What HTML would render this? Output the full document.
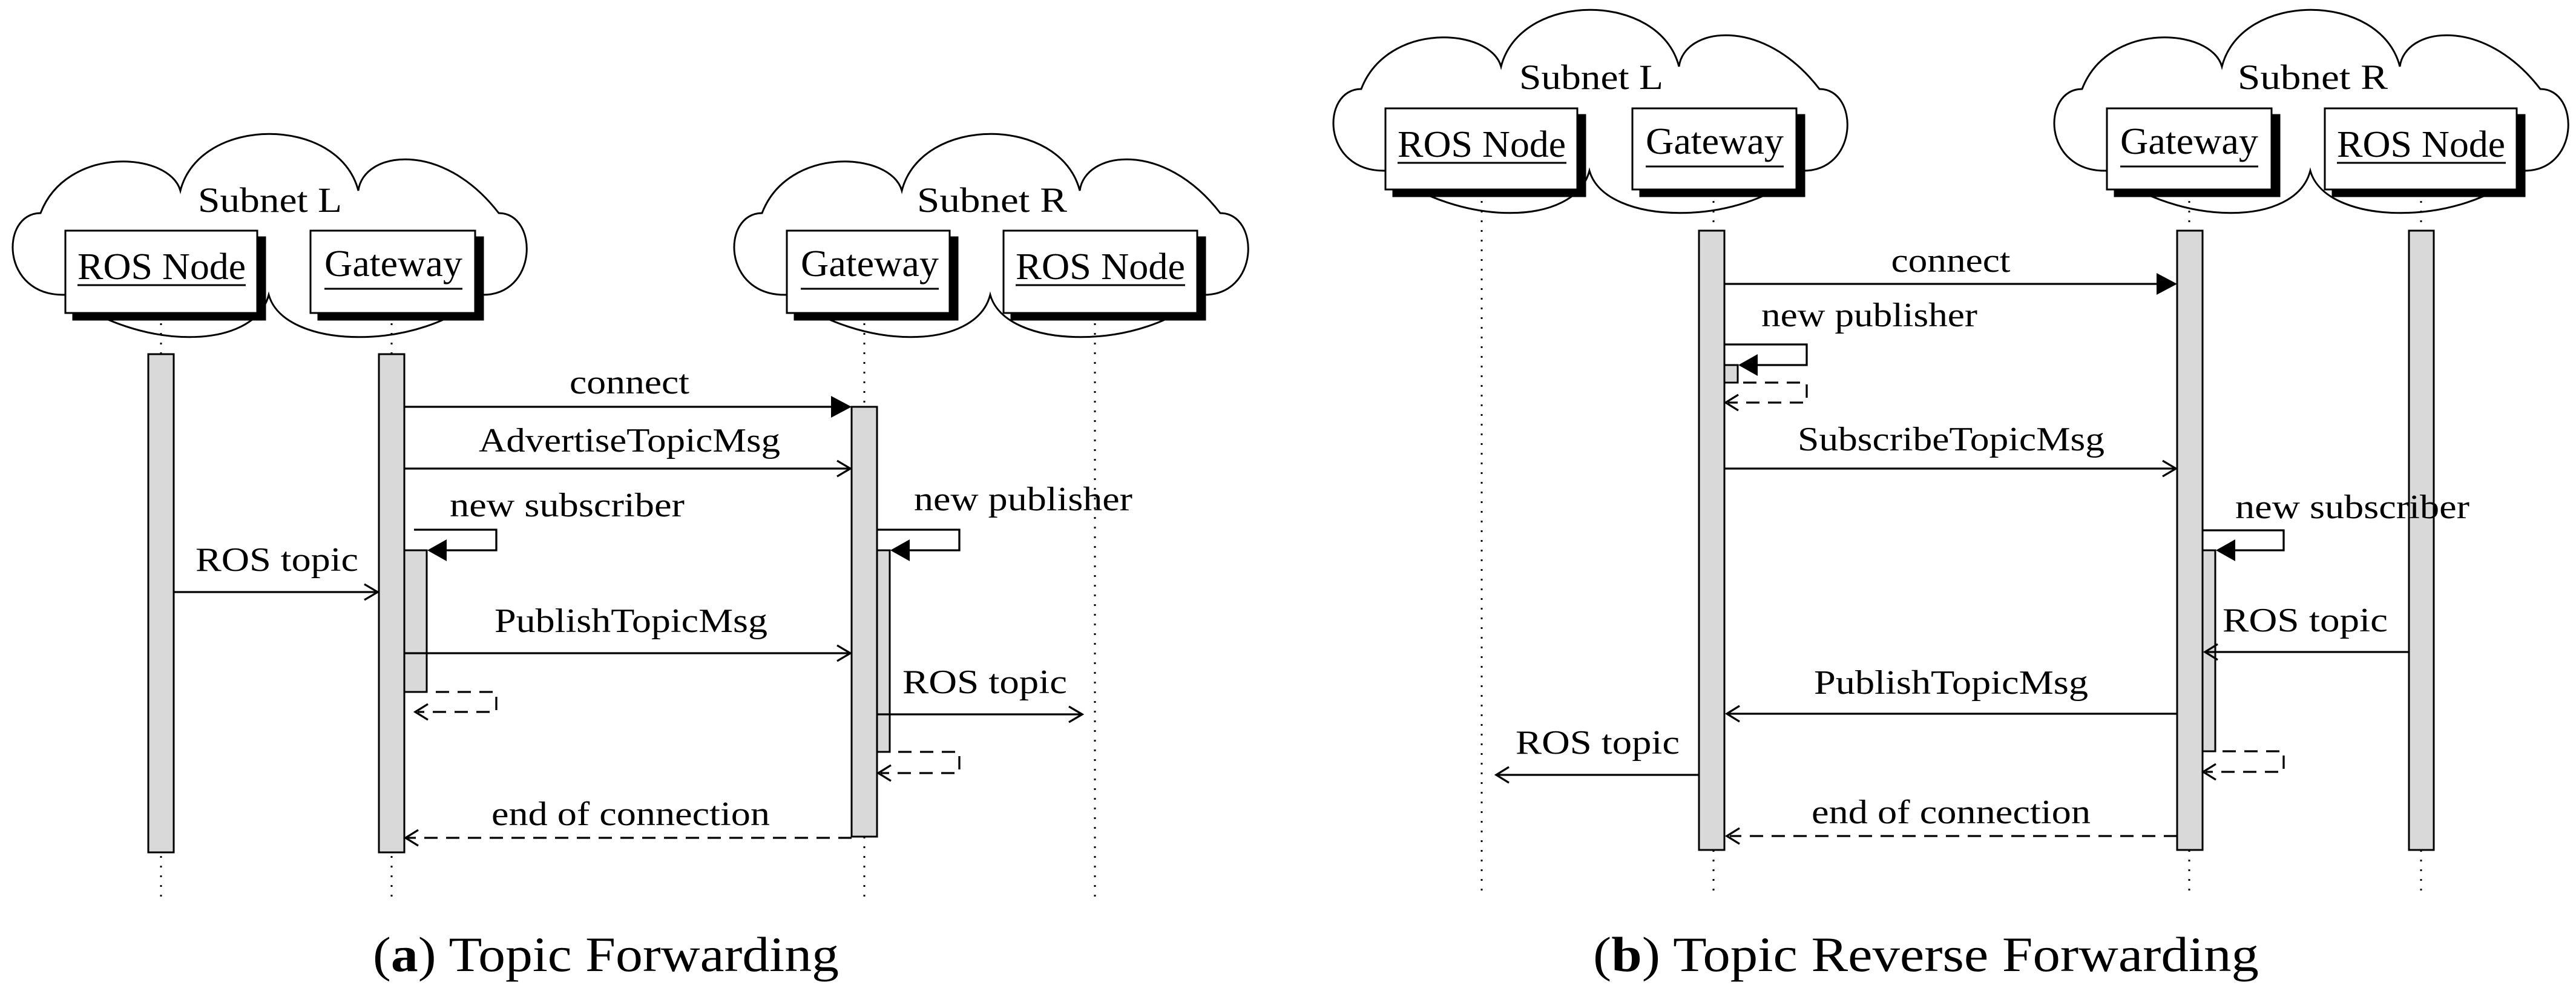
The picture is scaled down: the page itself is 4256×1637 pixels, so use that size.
<!DOCTYPE html>
<html><head><meta charset="utf-8"><style>
html,body{margin:0;padding:0;background:#fff}
svg{display:block}
text{font-family:"Liberation Serif",serif;fill:#000}
</style></head><body>
<svg width="4256" height="1637" viewBox="0 0 4256 1637" xmlns="http://www.w3.org/2000/svg" font-family="Liberation Serif, serif">
<defs>
<path id="cloud" d="M108 487 C0 490 0 352 67 352 C110 240 280 250 298 315 C330 190 560 190 592 315 C600 250 730 230 824 352 C890 352 890 490 794 487 C700 580 470 580 444 487 C420 580 230 580 108 487 Z" fill="#fff" stroke="#000" stroke-width="3"/>
</defs>
<g stroke-linecap="butt">
<!-- ========== (a) ========== -->
<use href="#cloud"/>
<use href="#cloud" transform="translate(1192,0)"/>
<text x="446" y="350" font-size="58" text-anchor="middle" textLength="238" lengthAdjust="spacingAndGlyphs">Subnet L</text>
<text x="1639" y="350" font-size="58" text-anchor="middle" textLength="248" lengthAdjust="spacingAndGlyphs">Subnet R</text>
<g stroke="#000" stroke-width="3" stroke-dasharray="3 13">
<line x1="266" y1="518" x2="266" y2="1482"/>
<line x1="647" y1="518" x2="647" y2="1482"/>
<line x1="1428" y1="518" x2="1428" y2="1482"/>
<line x1="1809" y1="518" x2="1809" y2="1482"/>
</g>
<g stroke="#000" stroke-width="3">
<rect x="121" y="392" width="317" height="136" fill="#000"/><rect x="108" y="381" width="317" height="136" fill="#fff"/>
<rect x="526" y="392" width="272" height="136" fill="#000"/><rect x="513" y="381" width="272" height="136" fill="#fff"/>
<rect x="1313" y="392" width="269" height="136" fill="#000"/><rect x="1300" y="381" width="269" height="136" fill="#fff"/>
<rect x="1671" y="392" width="320" height="136" fill="#000"/><rect x="1658" y="381" width="320" height="136" fill="#fff"/>
<line x1="128" y1="471" x2="406" y2="471"/>
<line x1="536" y1="477" x2="764" y2="477"/>
<line x1="1323" y1="477" x2="1551" y2="477"/>
<line x1="1678" y1="471" x2="1958" y2="471"/>
</g>
<text x="267" y="461" font-size="62" text-anchor="middle" textLength="278" lengthAdjust="spacingAndGlyphs">ROS Node</text>
<text x="650" y="456" font-size="62" text-anchor="middle" textLength="228" lengthAdjust="spacingAndGlyphs">Gateway</text>
<text x="1437" y="456" font-size="62" text-anchor="middle" textLength="228" lengthAdjust="spacingAndGlyphs">Gateway</text>
<text x="1818" y="461" font-size="62" text-anchor="middle" textLength="280" lengthAdjust="spacingAndGlyphs">ROS Node</text>
<g stroke="#000" stroke-width="3" fill="#d9d9d9">
<rect x="245" y="585" width="42" height="823"/>
<rect x="626" y="585" width="42" height="823"/>
<rect x="668" y="909" width="37" height="234"/>
<rect x="1407" y="672" width="42" height="710"/>
<rect x="1449" y="909" width="21" height="333"/>
</g>
<g stroke="#000" stroke-width="3.3" fill="none">
<line x1="668" y1="672" x2="1375" y2="672"/>
<line x1="668" y1="774" x2="1405" y2="774"/><path d="M1383 761 L1405 774 L1383 787"/>
<path d="M684 875 H820 V909 H737"/>
<line x1="287" y1="978" x2="624" y2="978"/><path d="M602 965 L624 978 L602 991"/>
<line x1="668" y1="1079" x2="1405" y2="1079"/><path d="M1383 1066 L1405 1079 L1383 1092"/>
<path d="M720 1143 H820 V1176 H690" stroke-dasharray="22 14"/><path d="M707 1163 L686 1176 L707 1189"/>
<path d="M1449 875 H1585 V909 H1502"/>
<line x1="1449" y1="1180" x2="1788" y2="1180"/><path d="M1766 1167 L1788 1180 L1766 1193"/>
<path d="M1484 1242 H1585 V1277 H1455" stroke-dasharray="22 14"/><path d="M1472 1264 L1451 1277 L1472 1290"/>
<line x1="1407" y1="1384" x2="672" y2="1384" stroke-dasharray="22 14"/><path d="M691 1371 L670 1384 L691 1397"/>
</g>
<g fill="#000">
<path d="M1407 672 L1373 654 L1373 690 Z"/>
<path d="M706 909 L738 891 L738 927 Z"/>
<path d="M1471 909 L1503 891 L1503 927 Z"/>
</g>
<g font-size="56">
<text x="1040" y="650" text-anchor="middle" textLength="198" lengthAdjust="spacingAndGlyphs">connect</text>
<text x="1040" y="746" text-anchor="middle" textLength="498" lengthAdjust="spacingAndGlyphs">AdvertiseTopicMsg</text>
<text x="743" y="853" textLength="388" lengthAdjust="spacingAndGlyphs">new subscriber</text>
<text x="323" y="943" textLength="269" lengthAdjust="spacingAndGlyphs">ROS topic</text>
<text x="817" y="1044" textLength="451" lengthAdjust="spacingAndGlyphs">PublishTopicMsg</text>
<text x="1510" y="843" textLength="361" lengthAdjust="spacingAndGlyphs">new publisher</text>
<text x="1491" y="1145" textLength="272" lengthAdjust="spacingAndGlyphs">ROS topic</text>
<text x="812" y="1363" textLength="460" lengthAdjust="spacingAndGlyphs">end of connection</text>
</g>
<text x="1001" y="1604" font-size="82" text-anchor="middle" textLength="770" lengthAdjust="spacingAndGlyphs">(<tspan font-weight="bold">a</tspan>) Topic Forwarding</text>

<!-- ========== (b) ========== -->
<use href="#cloud" transform="translate(2182,-205)"/>
<use href="#cloud" transform="translate(3373,-205)"/>
<text x="2629" y="147" font-size="58" text-anchor="middle" textLength="238" lengthAdjust="spacingAndGlyphs">Subnet L</text>
<text x="3821" y="147" font-size="58" text-anchor="middle" textLength="248" lengthAdjust="spacingAndGlyphs">Subnet R</text>
<g stroke="#000" stroke-width="3" stroke-dasharray="3 13">
<line x1="2448" y1="316" x2="2448" y2="1474"/>
<line x1="2831" y1="316" x2="2831" y2="1474"/>
<line x1="3617" y1="316" x2="3617" y2="1474"/>
<line x1="4000" y1="316" x2="4000" y2="1474"/>
</g>
<g stroke="#000" stroke-width="3">
<rect x="2302" y="190" width="317" height="134" fill="#000"/><rect x="2289" y="179" width="317" height="134" fill="#fff"/>
<rect x="2710" y="190" width="271" height="134" fill="#000"/><rect x="2697" y="179" width="271" height="134" fill="#fff"/>
<rect x="3494" y="190" width="272" height="134" fill="#000"/><rect x="3481" y="179" width="272" height="134" fill="#fff"/>
<rect x="3854" y="190" width="317" height="134" fill="#000"/><rect x="3841" y="179" width="317" height="134" fill="#fff"/>
<line x1="2309" y1="269" x2="2588" y2="269"/>
<line x1="2719" y1="275" x2="2947" y2="275"/>
<line x1="3503" y1="275" x2="3731" y2="275"/>
<line x1="3861" y1="269" x2="4140" y2="269"/>
</g>
<text x="2448" y="259" font-size="62" text-anchor="middle" textLength="278" lengthAdjust="spacingAndGlyphs">ROS Node</text>
<text x="2833" y="254" font-size="62" text-anchor="middle" textLength="228" lengthAdjust="spacingAndGlyphs">Gateway</text>
<text x="3617" y="254" font-size="62" text-anchor="middle" textLength="228" lengthAdjust="spacingAndGlyphs">Gateway</text>
<text x="4000" y="259" font-size="62" text-anchor="middle" textLength="278" lengthAdjust="spacingAndGlyphs">ROS Node</text>
<g stroke="#000" stroke-width="3" fill="#d9d9d9">
<rect x="2807" y="381" width="42" height="1023"/>
<rect x="2849" y="603" width="22" height="29"/>
<rect x="3597" y="381" width="42" height="1023"/>
<rect x="3639" y="909" width="21" height="332"/>
<rect x="3980" y="381" width="41" height="1023"/>
</g>
<g stroke="#000" stroke-width="3.3" fill="none">
<line x1="2849" y1="469" x2="3565" y2="469"/>
<path d="M2849 569 H2985 V603 H2902"/>
<path d="M2880 632 H2985 V665 H2855" stroke-dasharray="22 14"/><path d="M2872 652 L2851 665 L2872 678"/>
<line x1="2849" y1="774" x2="3595" y2="774"/><path d="M3573 761 L3595 774 L3573 787"/>
<path d="M3639 876 H3773 V909 H3693"/>
<line x1="3980" y1="1077" x2="3643" y2="1077"/><path d="M3664 1064 L3643 1077 L3664 1090"/>
<line x1="3597" y1="1179" x2="2853" y2="1179"/><path d="M2874 1166 L2853 1179 L2874 1192"/>
<path d="M3672 1241 H3773 V1275 H3644" stroke-dasharray="22 14"/><path d="M3661 1262 L3640 1275 L3661 1288"/>
<line x1="2807" y1="1280" x2="2472" y2="1280"/><path d="M2493 1267 L2472 1280 L2493 1293"/>
<line x1="3597" y1="1381" x2="2858" y2="1381" stroke-dasharray="22 14"/><path d="M2874 1368 L2853 1381 L2874 1394"/>
</g>
<g fill="#000">
<path d="M3597 469 L3563 451 L3563 487 Z"/>
<path d="M2872 603 L2904 585 L2904 621 Z"/>
<path d="M3661 909 L3693 891 L3693 927 Z"/>
</g>
<g font-size="56">
<text x="3223" y="449" text-anchor="middle" textLength="197" lengthAdjust="spacingAndGlyphs">connect</text>
<text x="2910" y="539" textLength="357" lengthAdjust="spacingAndGlyphs">new publisher</text>
<text x="2970" y="744" textLength="507" lengthAdjust="spacingAndGlyphs">SubscribeTopicMsg</text>
<text x="3693" y="856" textLength="387" lengthAdjust="spacingAndGlyphs">new subscriber</text>
<text x="3672" y="1043" textLength="273" lengthAdjust="spacingAndGlyphs">ROS topic</text>
<text x="2997" y="1146" textLength="453" lengthAdjust="spacingAndGlyphs">PublishTopicMsg</text>
<text x="2504" y="1245" textLength="271" lengthAdjust="spacingAndGlyphs">ROS topic</text>
<text x="2993" y="1360" textLength="461" lengthAdjust="spacingAndGlyphs">end of connection</text>
</g>
<text x="3182" y="1604" font-size="82" text-anchor="middle" textLength="1100" lengthAdjust="spacingAndGlyphs">(<tspan font-weight="bold">b</tspan>) Topic Reverse Forwarding</text>
</g>
</svg>
</body></html>
